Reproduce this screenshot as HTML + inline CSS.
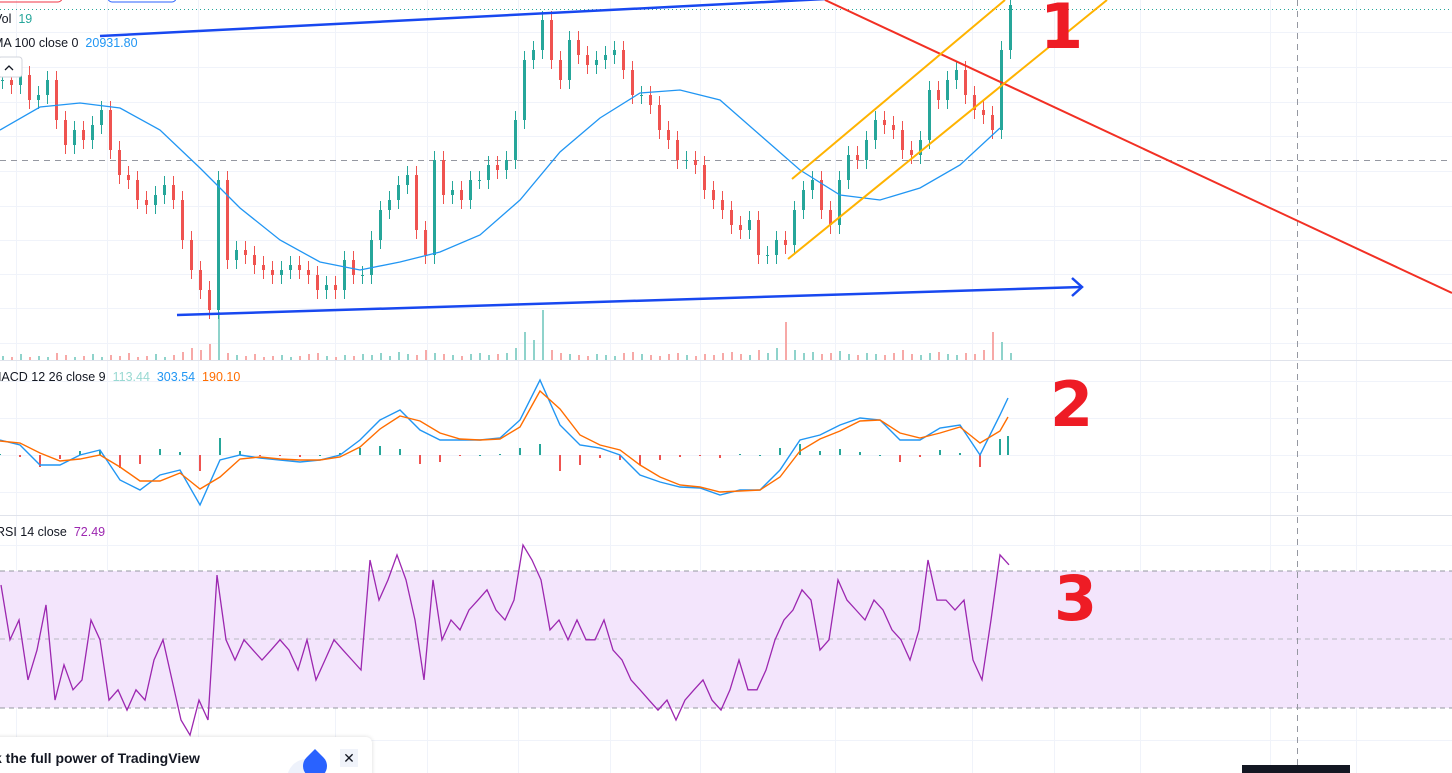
<!DOCTYPE html>
<html><head><meta charset="utf-8"><style>
html,body{margin:0;padding:0;background:#fff;overflow:hidden}
body{width:1452px;height:773px;position:relative;font-family:"Liberation Sans",sans-serif}
.lg{position:absolute;font-size:12.5px;color:#131722;white-space:nowrap}
.num{position:absolute;font-family:"DejaVu Sans","Liberation Sans",sans-serif;font-weight:bold;color:#ee1c25;font-size:62px;line-height:1}
</style></head><body>
<svg id="chart" width="1452" height="773" style="position:absolute;left:0;top:0">
<g id="grid"></g>
<rect x="0" y="571" width="1452" height="137" fill="#f3e5fc"/>
<line x1="0" y1="571" x2="1452" y2="571" stroke="#9598a1" stroke-dasharray="5,4" stroke-width="1"/>
<line x1="0" y1="639" x2="1452" y2="639" stroke="#b7b9c0" stroke-dasharray="5,4" stroke-width="1"/>
<line x1="0" y1="708" x2="1452" y2="708" stroke="#9598a1" stroke-dasharray="5,4" stroke-width="1"/>
<line x1="0" y1="360.5" x2="1452" y2="360.5" stroke="#e0e3eb"/>
<line x1="0" y1="515.5" x2="1452" y2="515.5" stroke="#e0e3eb"/>
<line x1="0" y1="9.5" x2="1452" y2="9.5" stroke="#26a69a" stroke-dasharray="1,3"/>
<line x1="0" y1="160.5" x2="1452" y2="160.5" stroke="#9598a1" stroke-dasharray="6,5"/>
<line x1="1297.5" y1="0" x2="1297.5" y2="773" stroke="#9598a1" stroke-dasharray="6,5"/>
<g id="vol"></g>
<g id="candles"></g>
<path id="ma" fill="none" stroke="#2196f3" stroke-width="1.3"/>
<g id="macdh"></g>
<path id="macdl" fill="none" stroke="#2196f3" stroke-width="1.4"/>
<path id="sigl" fill="none" stroke="#ff6d00" stroke-width="1.4"/>
<path id="rsil" fill="none" stroke="#9c27b0" stroke-width="1.3"/>
<line x1="100" y1="36" x2="825" y2="-1" stroke="#1848f0" stroke-width="2.5"/>
<line x1="177" y1="315" x2="1082" y2="287" stroke="#1848f0" stroke-width="2.5"/>
<polyline points="1072,278 1082,287 1072,296" fill="none" stroke="#1848f0" stroke-width="2.5"/>
<line x1="825" y1="0" x2="1452" y2="293" stroke="#f23024" stroke-width="2"/>
<line x1="792" y1="179" x2="1005" y2="0" stroke="#ffb300" stroke-width="2"/>
<line x1="788" y1="259" x2="1107" y2="0" stroke="#ffb300" stroke-width="2"/>
<rect x="-10" y="-20" width="72" height="22" rx="4" fill="none" stroke="#f23645"/>
<rect x="108" y="-20" width="68" height="22" rx="4" fill="none" stroke="#2962ff"/>
<rect x="-2" y="57" width="24" height="20" rx="3" fill="#fff" stroke="#d1d4dc"/>
<polyline points="5,70 9,66 13,70" fill="none" stroke="#131722" stroke-width="1.3"/>
<rect x="1242" y="765" width="108" height="8" fill="#131722"/>
</svg>
<div class="lg" style="left:-6px;top:12px">Vol&nbsp;&nbsp;<span style="color:#26a69a">19</span></div>
<div class="lg" style="left:-7px;top:36px">MA 100 close 0&nbsp;&nbsp;<span style="color:#2196f3">20931.80</span></div>
<div class="lg" style="left:-9px;top:370px">MACD 12 26 close 9&nbsp;&nbsp;<span style="color:#99d9d2">113.44</span>&nbsp;&nbsp;<span style="color:#2196f3">303.54</span>&nbsp;&nbsp;<span style="color:#ff6d00">190.10</span></div>
<div class="lg" style="left:-4px;top:525px">RSI 14 close&nbsp;&nbsp;<span style="color:#9c27b0">72.49</span></div>
<div class="num" style="left:1040px;top:-4px">1</div>
<div class="num" style="left:1050px;top:374px">2</div>
<div class="num" style="left:1054px;top:568px">3</div>
<div style="position:absolute;left:-10px;top:737px;width:382px;height:50px;background:#fff;border-radius:6px;box-shadow:0 0 4px rgba(0,0,0,.15)">
 <div style="position:absolute;left:4px;top:13px;font-weight:bold;font-size:14px;color:#131722;white-space:nowrap">k the full power of TradingView</div>
 <div style="position:absolute;left:297px;top:22px;width:40px;height:40px;border-radius:50%;background:#eef2fb"></div>
 <div style="position:absolute;left:313px;top:17px;width:24px;height:24px;background:#2962ff;border-radius:0 50% 50% 50%;transform:rotate(45deg)"></div>
 <div style="position:absolute;left:350px;top:12px;width:18px;height:18px;background:#f0f3fa;text-align:center;font-size:14px;line-height:18px;color:#131722">✕</div>
</div>
<script>
const closes=[22200,22150,22250,22000,22050,22200,21800,21550,21700,21600,21750,21900,21500,21250,21200,21000,20950,21050,21150,21000,20600,20300,20100,19900,21200,20400,20500,20450,20350,20300,20250,20300,20350,20300,20250,20100,20150,20100,20400,20250,20250,20600,20900,21000,21150,21250,20700,20450,21400,21050,21100,21000,21200,21200,21350,21300,21400,21800,22400,22500,22800,22400,22200,22600,22450,22350,22400,22450,22500,22300,22050,22050,21950,21700,21600,21400,21400,21350,21100,21000,20900,20750,20700,20800,20450,20450,20600,20550,20900,21100,21200,20900,20750,21200,21450,21400,21600,21800,21750,21700,21500,21450,21600,22100,22000,22200,22300,22050,21900,21850,21700,22500,22950];
const volumes=[4,3,6,3,4,3,7,5,3,4,6,3,5,4,7,3,4,6,3,5,8,12,10,16,48,7,5,4,6,3,4,5,3,4,6,7,4,3,5,4,6,5,7,4,8,6,5,10,7,6,5,4,6,7,5,6,7,12,28,20,50,10,7,6,5,4,6,5,4,7,8,6,5,4,6,7,5,4,6,5,7,8,6,5,10,7,12,38,10,7,8,6,7,9,6,5,7,6,5,7,10,6,5,7,8,6,5,7,6,10,28,18,7];
const maVals=[21700,21930,21970,21920,21700,21320,20920,20600,20380,20300,20380,20480,20650,21000,21480,21820,22070,22100,22000,21650,21300,21050,21000,21120,21350,21720];
const macdVals=[75,50,-50,-50,0,25,-125,-175,-100,-75,-250,-25,0,-15,-25,-35,-25,0,75,175,225,125,75,75,75,85,175,375,150,50,35,0,-100,-135,-160,-165,-200,-175,-175,-75,75,100,150,185,175,75,75,135,150,0,200,285];
const signalVals=[70,60,10,-30,-20,0,-60,-130,-130,-90,-170,-110,-20,-10,-20,-25,-25,-10,40,130,195,170,110,80,75,80,140,320,230,100,50,25,-50,-110,-150,-160,-185,-180,-175,-110,20,80,120,170,175,110,85,110,140,60,120,190];
const rsiVals=[65.9,49.9,55.7,38.2,46.9,60.1,32.3,42.6,35.3,38.2,55.7,49.9,32.3,35.3,29.4,35.3,32.3,44.0,49.9,38.2,26.5,22.1,32.3,26.5,68.8,49.9,44.0,49.9,46.9,44.0,46.9,49.9,46.9,41.1,49.9,38.2,44.0,49.9,46.9,44.0,41.1,73.2,61.5,67.4,74.7,67.4,55.7,38.2,67.4,49.9,55.7,52.8,58.6,61.5,64.5,58.6,55.7,61.5,77.6,73.2,67.4,52.8,55.7,49.9,55.7,49.9,49.9,55.7,46.9,44.0,38.2,35.3,32.3,29.4,32.3,26.5,32.3,35.3,38.2,32.3,29.4,35.3,44.0,35.3,35.3,41.1,49.9,55.7,58.6,64.5,61.5,46.9,49.9,67.4,61.5,58.6,55.7,61.5,58.6,52.8,49.9,44.0,52.8,73.2,61.5,61.5,58.6,61.5,44.0,38.2,55.7,74.7,71.8];
const NS="http://www.w3.org/2000/svg";
const xC=i=>i*9+1, xMA=i=>i*40, xM=i=>Math.min(i*20,1008);
const yP=p=>(23000-p)/10, yV=v=>360-v, yM=v=>455-v/5, yR=r=>708-(r-30)*137/40;
function mk(t,a,parent){const e=document.createElementNS(NS,t);for(const k in a)e.setAttribute(k,a[k]);parent.appendChild(e);return e;}
const grid=document.getElementById('grid');
[16,107,198,335,427,518,610,700,835,972,1054,1140,1270,1356].forEach(x=>{const l=mk('line',{x1:x+.5,x2:x+.5,y1:0,y2:773,stroke:'#f0f3fa'},grid);

});
[32,67,102,136,171,206,240,274,308,343,381,418,455,492,545,605,675,740].forEach(y=>{const l=mk('line',{x1:0,x2:1452,y1:y+.5,y2:y+.5,stroke:'#f0f3fa'},grid);

});
const cg=document.getElementById('candles'), vg=document.getElementById('vol');
closes.forEach((c,i)=>{const o=i?closes[i-1]:c;const up=c>=o;const col=up?'#26a69a':'#ef5350';const x=xC(i);
const w=mk('line',{x1:x+1.5,x2:x+1.5,y1:yP(Math.max(o,c)+90),y2:yP(Math.min(o,c)-90),stroke:col,'stroke-width':1},cg);


const b=mk('rect',{x:x,y:yP(Math.max(o,c)),width:3,height:Math.max(1,Math.abs(o-c)/10),fill:col},cg);


const v=mk('rect',{x:x+1,y:yV(volumes[i]),width:2,height:volumes[i],fill:up?'#8fd3cb':'#f7a9a7'},vg);

});
const path=(arr,fx,fy)=>arr.map((v,i)=>(i?'L':'M')+fx(i).toFixed(1)+' '+fy(v).toFixed(1)).join(' ');
document.getElementById('ma').setAttribute('d',path(maVals,xMA,yP));
document.getElementById('macdl').setAttribute('d',path(macdVals,xM,yM));
document.getElementById('sigl').setAttribute('d',path(signalVals,xM,yM));
document.getElementById('rsil').setAttribute('d',path(rsiVals,xC,yR));
const hg=document.getElementById('macdh');
macdVals.forEach((m,i)=>{const h=m-signalVals[i];const y0=yM(0),y1=yM(h);
const r=mk('rect',{x:xM(i)-1,y:Math.min(y0,y1),width:2,height:Math.max(1,Math.abs(y1-y0)),fill:h>=0?'#26a69a':'#ef5350'},hg);

});
</script>
</body></html>
